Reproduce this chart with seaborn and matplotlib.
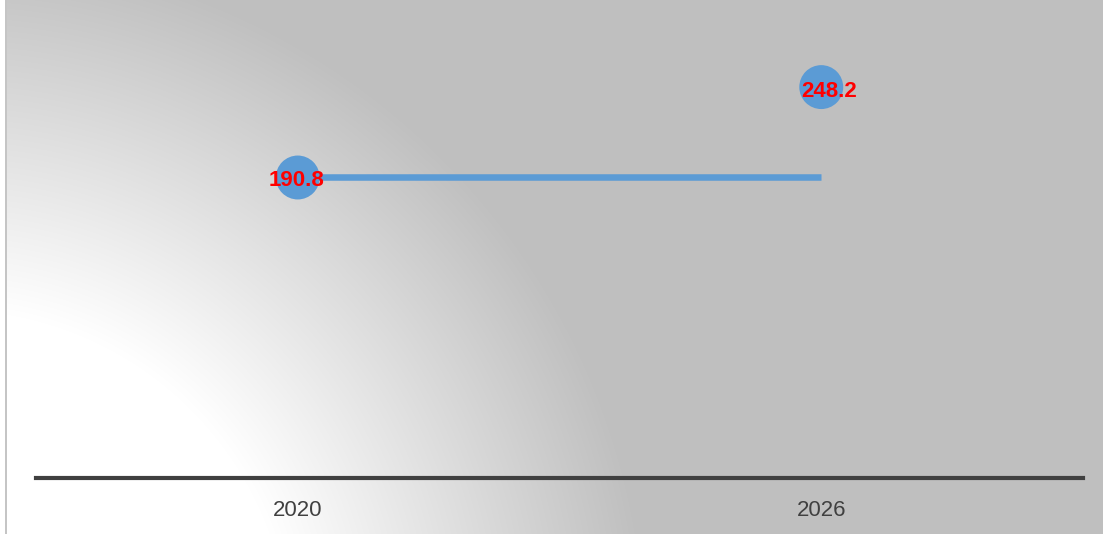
import numpy as np
import pandas as pd
import matplotlib
matplotlib.use("Agg")
import matplotlib.pyplot as plt
import seaborn as sns

# Data
years = ["2020", "2026"]
values = [190.8, 248.2]

W, H, DPI = 1103, 534, 100

sns.set_theme(style="white")
plt.rcParams["font.family"] = ["Liberation Sans", "DejaVu Sans"]

fig = plt.figure(figsize=(W / DPI, H / DPI), dpi=DPI)
fig.patch.set_facecolor("white")

# Radial grey background, white towards the lower-left corner
x0 = 7
bg_w = W - x0
xx, yy = np.meshgrid(np.arange(bg_w) + x0 + 0.5, np.arange(H) + 0.5)
cx, cy = -50.0, 650.0
r = np.hypot(xx - cx, yy - cy)
r_in, r_out = 340.0, 700.0
t = np.clip((r - r_in) / (r_out - r_in), 0, 1)
grey = 255 - t * (255 - 191)
img = np.dstack([grey, grey, grey]) / 255.0
bg_ax = fig.add_axes([x0 / W, 0, bg_w / W, 1])
bg_ax.imshow(img, aspect="auto", interpolation="bilinear")
bg_ax.set_axis_off()
bg_ax.set_zorder(0)

# Thin frame line on the left edge
fig.add_artist(plt.Line2D([5.8 / W, 5.8 / W], [0, 1], transform=fig.transFigure,
                          color="#bfbfbf", lw=1.3))

# Plot area
ax = fig.add_axes([36 / W, (H - 478) / H, 1047 / W, 478 / H])
ax.set_zorder(1)
ax.patch.set_alpha(0)

df = pd.DataFrame({"year": years, "value": values})
df["pos"] = np.arange(len(years))

# Connector drawn at the starting value
seg = pd.DataFrame({"pos": df["pos"], "value": [values[0]] * len(values)})
sns.lineplot(data=seg, x="pos", y="value", ax=ax, color="#5b9bd5", lw=4.7,
             solid_capstyle="butt", zorder=2)
sns.scatterplot(data=df, x="pos", y="value", ax=ax, color="#5b9bd5", s=1000,
                edgecolor="none", zorder=3)

offsets = [(-1, -2), (6, -3)]
for (p, v), off in zip(zip(df["pos"], df["value"]), offsets):
    ax.annotate(f"{v:.1f}", (p, v), xytext=off, textcoords="offset points",
                ha="center", va="center", color="red", fontsize=16,
                fontweight="bold", zorder=4)

ax.set_xlim(-0.5, len(years) - 0.5)
ax.set_ylim(0, 303.5)
ax.set_xticks(df["pos"])
ax.set_xticklabels(years, fontsize=16, color="#404040")
ax.tick_params(axis="x", length=0, pad=16)
ax.set_yticks([])
ax.set_xlabel("")
ax.set_ylabel("")
for side in ["top", "right", "left"]:
    ax.spines[side].set_visible(False)
ax.spines["bottom"].set_color("#404040")
ax.spines["bottom"].set_linewidth(3)

fig.savefig("out.png", dpi=DPI)
